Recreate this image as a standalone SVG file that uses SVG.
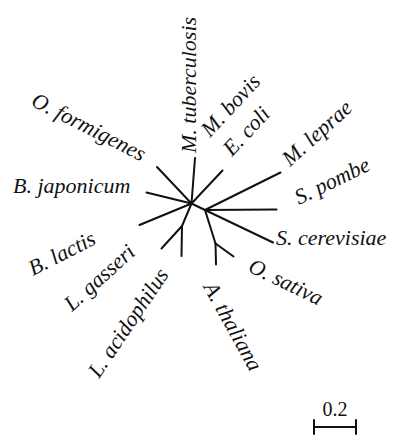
<svg xmlns="http://www.w3.org/2000/svg" width="393" height="436" viewBox="0 0 393 436">
<style>
.lbl{font-family:"Liberation Serif","Times New Roman",serif;font-style:italic;font-size:22px;fill:#111}
.num{font-family:"Liberation Serif","Times New Roman",serif;font-size:20px;fill:#111}
.br{stroke:#111;stroke-width:2;fill:none;stroke-linecap:round;stroke-linejoin:round}
</style>
<rect width="393" height="436" fill="#fff"/>
<g id="connectors" class="br">
<line x1="191.5" y1="203.5" x2="195" y2="158"/>
<line x1="191.5" y1="203.5" x2="157" y2="167"/>
<line x1="191.5" y1="203.5" x2="222.5" y2="170.5"/>
<line x1="191.5" y1="203.5" x2="146.5" y2="192.5"/>
<line x1="191.5" y1="203.5" x2="139.5" y2="225"/>
<line x1="191.5" y1="203.5" x2="182" y2="226"/>
<line x1="182" y1="226" x2="161.5" y2="248.5"/>
<line x1="182" y1="226" x2="181.5" y2="256"/>
<line x1="191.5" y1="203.5" x2="205" y2="210"/>
<line x1="205" y1="210" x2="280.5" y2="172.5"/>
<line x1="205" y1="210" x2="276.5" y2="209.5"/>
<line x1="205" y1="210" x2="273" y2="242.5"/>
<line x1="205" y1="210" x2="215.5" y2="243.5"/>
<line x1="215.5" y1="243.5" x2="233.5" y2="256.5"/>
<line x1="215.5" y1="243.5" x2="216" y2="264.5"/>
</g>
<g id="n-mtuberculosis"><text class="lbl" transform="translate(196,153) rotate(-90)">M. tuberculosis</text></g>
<g id="n-oformigenes"><text class="lbl" transform="translate(30,105) rotate(27)">O. formigenes</text></g>
<g id="n-bjaponicum"><text class="lbl" x="13" y="193">B. japonicum</text></g>
<g id="n-mbovis"><text class="lbl" transform="translate(210,138) rotate(-47)">M. bovis</text></g>
<g id="n-ecoli"><text class="lbl" transform="translate(232,157) rotate(-47)">E. coli</text></g>
<g id="n-mleprae"><text class="lbl" transform="translate(290,167) rotate(-42)">M. leprae</text></g>
<g id="n-spombe"><text class="lbl" transform="translate(299,205) rotate(-26)">S. pombe</text></g>
<g id="n-scerevisiae"><text class="lbl" x="276" y="245">S. cerevisiae</text></g>
<g id="n-osativa"><text class="lbl" transform="translate(247,271) rotate(26)">O. sativa</text></g>
<g id="n-athaliana"><text class="lbl" transform="translate(203,287) rotate(61)">A. thaliana</text></g>
<g id="n-lacidophilus"><text class="lbl" transform="translate(99,379) rotate(-56)">L. acidophilus</text></g>
<g id="n-lgasseri"><text class="lbl" transform="translate(72,312) rotate(-42)">L. gasseri</text></g>
<g id="n-blactis"><text class="lbl" transform="translate(33,276) rotate(-27)">B. lactis</text></g>
<g id="scale">
<text class="num" x="335" y="416" text-anchor="middle">0.2</text>
<path class="br" d="M314 427H356M314 420V434M356 420V434" stroke-linecap="butt"/>
</g>
</svg>
